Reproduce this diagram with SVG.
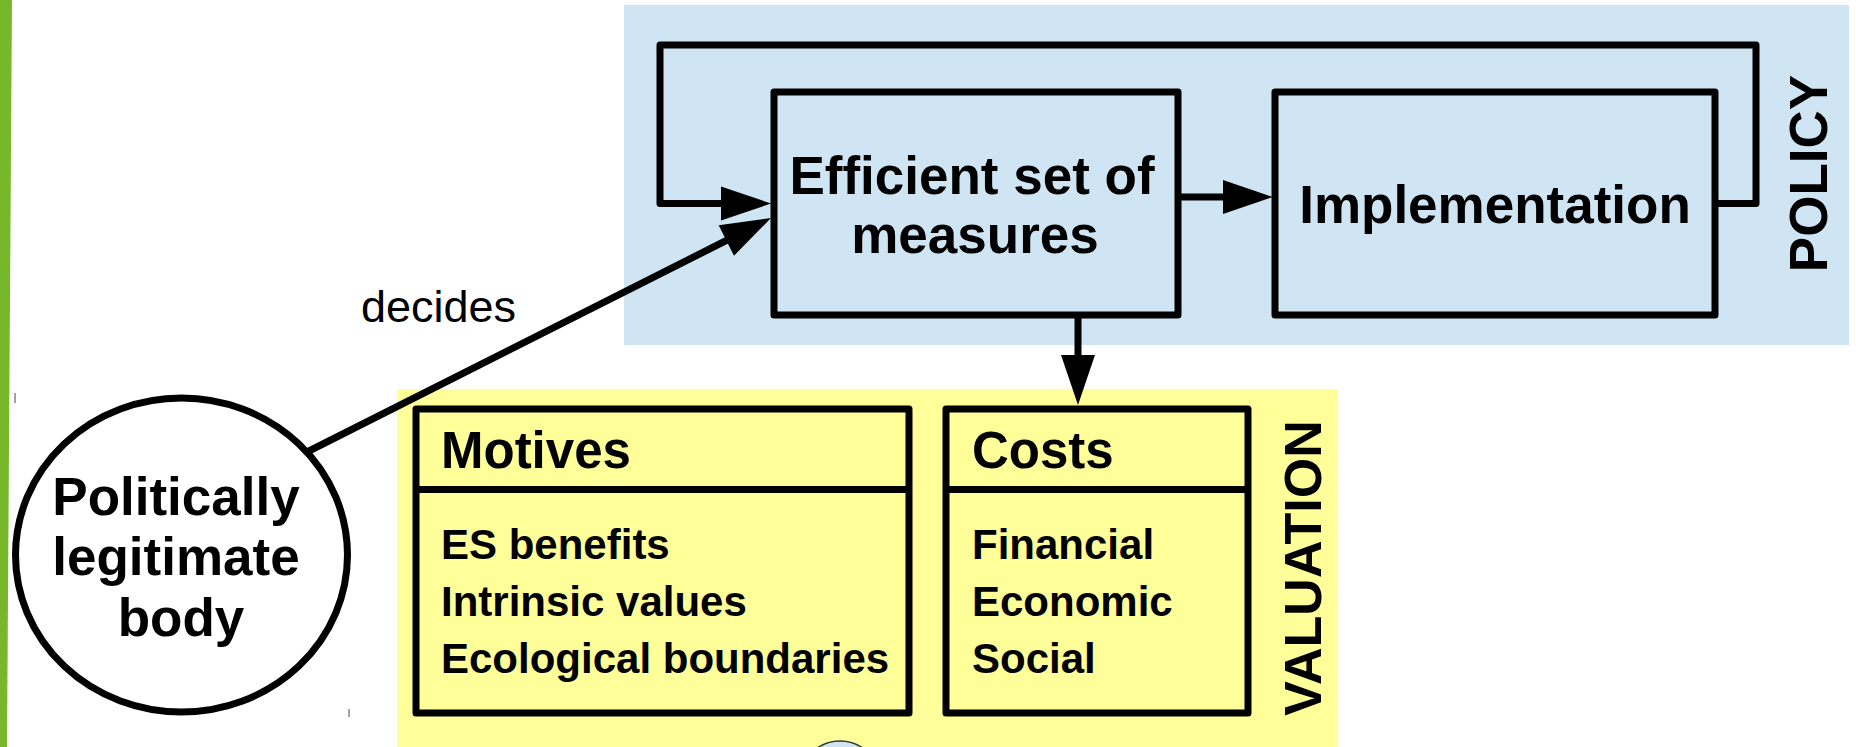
<svg xmlns="http://www.w3.org/2000/svg" width="1856" height="747" viewBox="0 0 1856 747">
<defs>
<style>
.box{stroke:#000;stroke-width:7;stroke-linejoin:round}
.blue{fill:#cfe5f3}
.yel{fill:#ffff99}
.conn{fill:none;stroke:#000;stroke-width:7;stroke-linejoin:round}
.b{font-family:"Liberation Sans",Arial,sans-serif;font-weight:bold;fill:#000}
.r{font-family:"Liberation Sans",Arial,sans-serif;fill:#000}
</style>
<marker id="ah" markerUnits="userSpaceOnUse" markerWidth="50" markerHeight="34" refX="20" refY="17" orient="auto" overflow="visible">
<path d="M0,0 L50,17 L0,34 z" fill="#000"/>
</marker>
</defs>
<rect width="1856" height="747" fill="#fff"/>
<polygon points="0,0 12,0 7,747 0,747" fill="#77b82a"/>
<line x1="15" y1="393" x2="15" y2="403" stroke="#444" stroke-width="1"/>
<line x1="349" y1="709" x2="349" y2="717" stroke="#444" stroke-width="1"/>

<g id="policy-area">
<rect x="624" y="5" width="1225" height="340" class="blue"/>
<text class="b" font-size="53" text-anchor="middle" transform="translate(1827,173.5) rotate(-90)">POLICY</text>
</g>
<g id="valuation-area">
<rect x="397" y="389" width="941" height="358" class="yel"/>
<text class="b" font-size="52" text-anchor="middle" transform="translate(1321,568) rotate(-90)">VALUATION</text>
</g>

<g id="connectors">
<path class="conn" d="M1715,203.5 H1756 V45 H660 V203.5 H741" marker-end="url(#ah)"/>
<line class="conn" x1="307" y1="452" x2="744.2" y2="231.5" marker-end="url(#ah)"/>
<line class="conn" x1="1178" y1="197" x2="1243" y2="197" marker-end="url(#ah)"/>
<line class="conn" x1="1078" y1="315" x2="1078" y2="375" marker-end="url(#ah)"/>
<text class="r" font-size="45" x="361" y="322">decides</text>
</g>

<g id="efficient">
<rect x="774" y="92" width="404" height="223" class="box blue"/>
<text class="b" font-size="53" text-anchor="middle" x="972" y="194">Efficient set of</text>
<text class="b" font-size="53" text-anchor="middle" x="975" y="253">measures</text>
</g>
<g id="implementation">
<rect x="1275" y="92" width="440" height="223" class="box blue"/>
<text class="b" font-size="53" text-anchor="middle" x="1495" y="223">Implementation</text>
</g>

<g id="motives">
<rect x="416" y="409" width="493" height="304" class="box yel"/>
<line x1="416" y1="489.5" x2="909" y2="489.5" stroke="#000" stroke-width="7"/>
<text class="b" font-size="51" x="441" y="468">Motives</text>
<text class="b" font-size="42" x="441" y="559">ES benefits</text>
<text class="b" font-size="42" x="441" y="616">Intrinsic values</text>
<text class="b" font-size="42" x="441" y="673">Ecological boundaries</text>
</g>
<g id="costs">
<rect x="946" y="409" width="302" height="304" class="box yel"/>
<line x1="946" y1="489.5" x2="1248" y2="489.5" stroke="#000" stroke-width="7"/>
<text class="b" font-size="51" x="972" y="468">Costs</text>
<text class="b" font-size="42" x="972" y="559">Financial</text>
<text class="b" font-size="42" x="972" y="616">Economic</text>
<text class="b" font-size="42" x="972" y="673">Social</text>
</g>

<g id="body">
<ellipse cx="181.5" cy="555" rx="166" ry="157" fill="#fff" stroke="#000" stroke-width="7"/>
<text class="b" font-size="53" text-anchor="middle" x="176" y="515">Politically</text>
<text class="b" font-size="53" text-anchor="middle" x="176" y="575">legitimate</text>
<text class="b" font-size="53" text-anchor="middle" x="181" y="636">body</text>
</g>

<g id="partial-node">
<ellipse cx="840" cy="781" rx="40" ry="40" fill="#cfe5f3" stroke="#333" stroke-width="1.5"/>
</g>
</svg>
